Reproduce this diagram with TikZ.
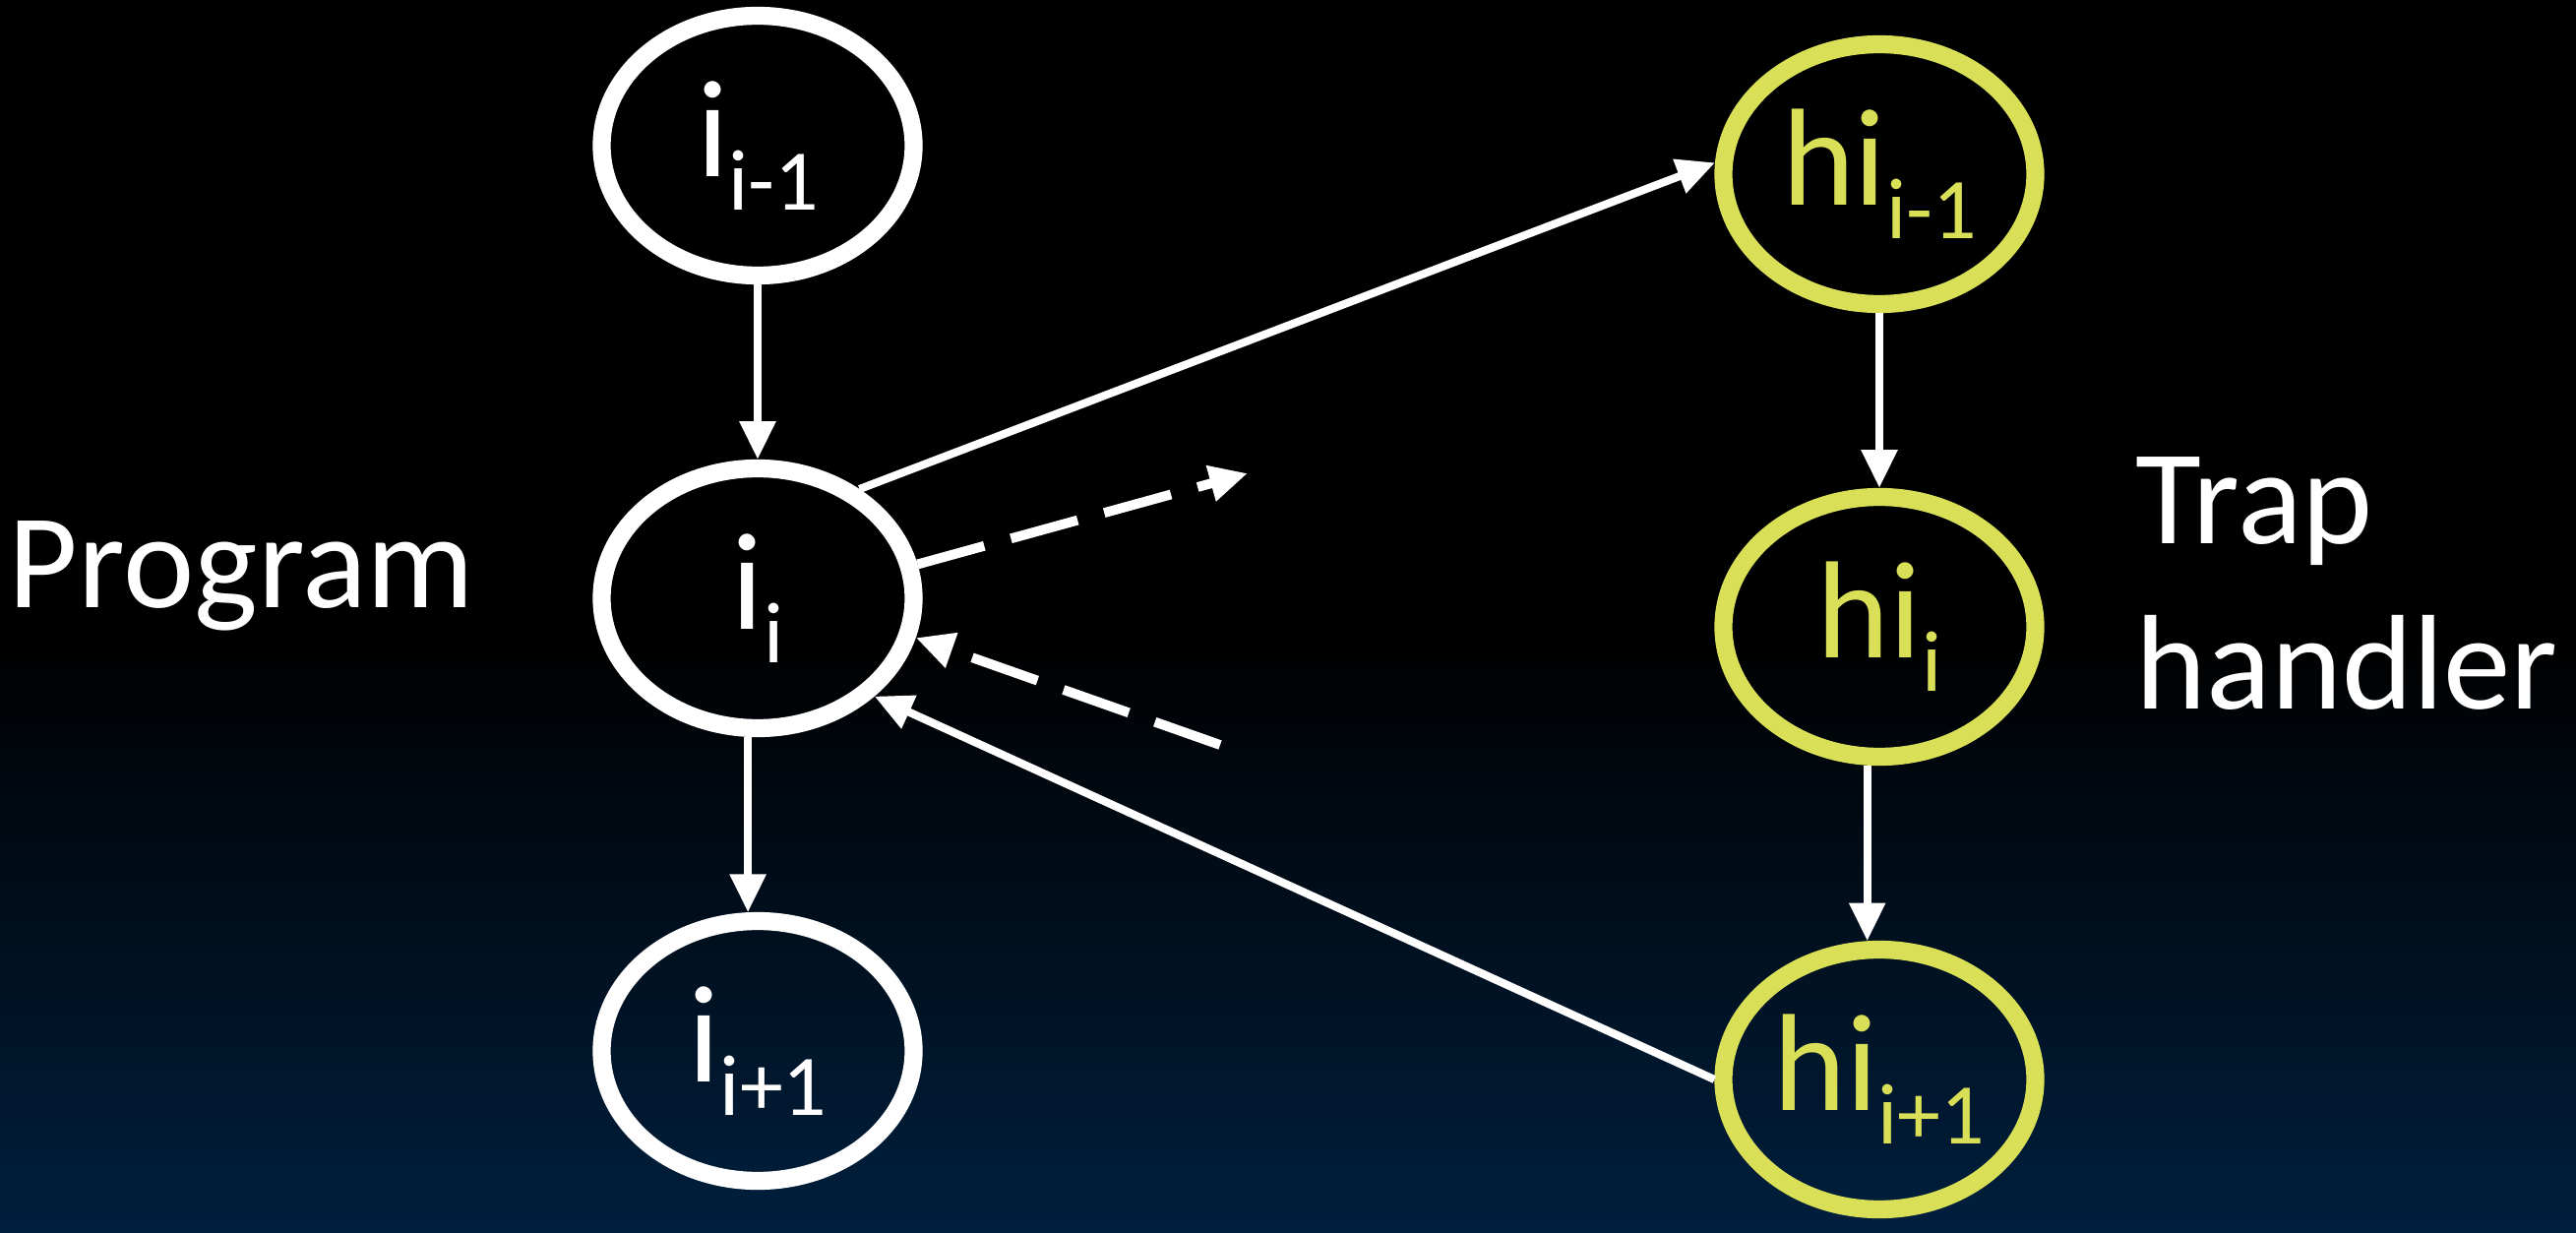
\documentclass[tikz,border=0pt]{standalone}
\usepackage{fontspec}
\setmainfont{Carlito}
\usepackage{tikz}
\usetikzlibrary{positioning,shapes.geometric,arrows.meta}
\definecolor{trapyellow}{RGB}{217,224,87}
\definecolor{bgnavy}{RGB}{0,31,61}
\pgfdeclareverticalshading{backdrop}{100bp}{color(0bp)=(bgnavy); color(25bp)=(bgnavy); color(49bp)=(black); color(100bp)=(black)}
\newcommand\subscr[1]{\raisebox{-0.24em}{\fontsize{25}{25}\selectfont #1}}
\tikzset{%
  instr/.style={ellipse,draw=white,line width=5.2pt,minimum width=3.17cm,
    minimum height=2.64cm,inner sep=0pt,text=white,font=\fontsize{40}{40}\selectfont},
  handler/.style={instr,draw=trapyellow,text=trapyellow},
  flow/.style={-{Triangle[length=11pt,width=10pt]},white,line width=2.3pt},
  trap/.style={flow,line width=2.8pt,dash pattern=on 20pt off 8pt},
  caption/.style={text=white,inner sep=0pt,font=\fontsize{39}{47.8}\selectfont}
}
\begin{document}
\begin{tikzpicture}[node distance=4.6cm]
    \useasboundingbox (0,0) rectangle (26.18,12.52);
    \shade [shading=backdrop] (0,0) rectangle (26.18,12.52);

    % program side
    \node [instr] (ii) at (7.70,6.44) {i\subscr{i}};
    \node [instr] (iprev) [above of=ii] {i\subscr{i-1}} edge [flow] (ii);
    \node [instr] (inext) [below of=ii] {i\subscr{i+1}};
    \draw [flow] (ii.-94) -- (inext.94);

    % trap handler side
    \node [handler] (hicur) at (19.10,6.15) {hi\subscr{i}};
    \node [handler] (hiprev) [above of=hicur] {hi\subscr{i-1}} edge [flow] (hicur);
    \node [handler] (hinext) [below of=hicur] {hi\subscr{i+1}};
    \draw [flow] (hicur.-95) -- (hinext.95);

    % trap and return
    \draw [flow] (ii.47) -- (hiprev.176);
    \draw [flow] (hinext.180) -- (ii.-40);

    \coordinate (trapout) at (12.68,7.71);
    \coordinate (trapin) at (12.40,4.95);
    \draw [trap] (ii.12) -- (trapout);
    \draw [trap] (trapin) -- (ii.-14);

    \node [caption,anchor=base west] (prog) at (0.08,6.34) {Program};
    \node [caption,anchor=base west,align=left] (trapcap) at (21.70,5.32) {Trap\\handler};
\end{tikzpicture}
\end{document}
